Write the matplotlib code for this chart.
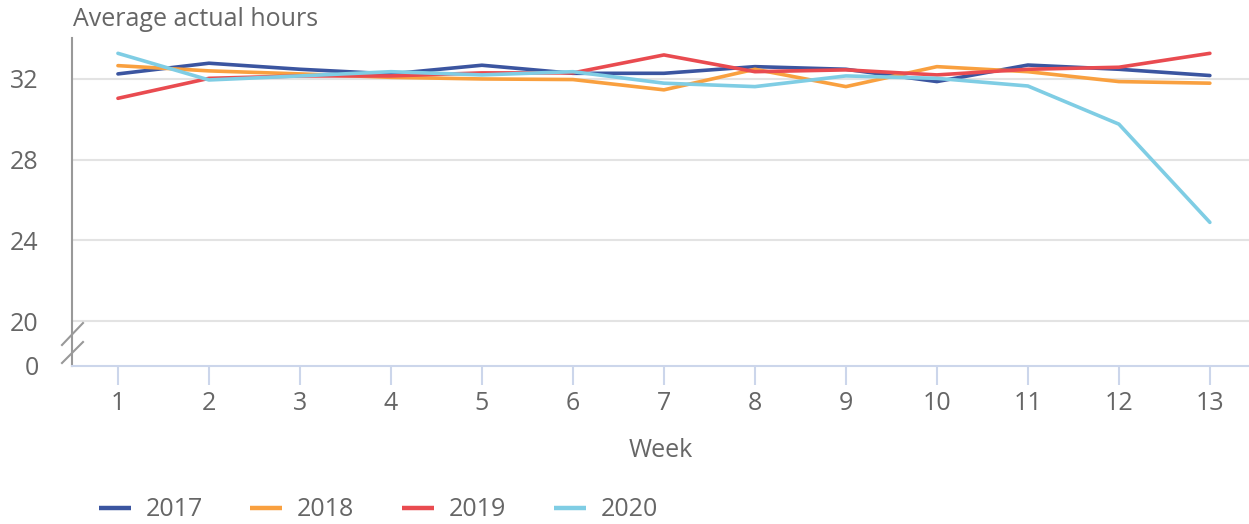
import matplotlib
matplotlib.use('Agg')
import matplotlib.pyplot as plt
from matplotlib.lines import Line2D

plt.rcParams['font.family'] = ['Open Sans', 'DejaVu Sans']

weeks = list(range(1, 14))
hours_2017 = [32.25, 32.78, 32.48, 32.25, 32.68, 32.28, 32.28, 32.61, 32.48, 31.87, 32.69, 32.48, 32.17]
hours_2018 = [32.66, 32.40, 32.25, 32.08, 32.00, 31.97, 31.46, 32.48, 31.62, 32.61, 32.36, 31.87, 31.79]
hours_2019 = [31.04, 32.03, 32.15, 32.15, 32.30, 32.30, 33.19, 32.36, 32.45, 32.20, 32.48, 32.58, 33.27]
hours_2020 = [33.27, 31.95, 32.15, 32.36, 32.20, 32.36, 31.79, 31.62, 32.15, 32.03, 31.65, 29.76, 24.89]
years = ['2017', '2018', '2019', '2020']
colors = ['#3b55a0', '#f9a03f', '#e94b50', '#7fcde4']

# broken y axis: everything below 20 squeezed into a short stub ending at 0
y_zero = 17.77
y_ticks = [20, 24, 28, 32]

W, H = 1249, 524
text_col = '#666666'
fs = 18
fig = plt.figure(figsize=(W/100, H/100), dpi=100)
ax = fig.add_axes([72/W, 1 - 366/H, 1 - 72/W, (366 - 38)/H])

for grid_y in y_ticks:
    ax.axhline(grid_y, color='#e3e3e3', lw=1.5, zorder=0)

for vals, year, col in zip([hours_2017, hours_2018, hours_2019, hours_2020], years, colors):
    ax.plot(weeks, vals, color=col, lw=2.6, label=year, solid_capstyle='round')

ax.set_xlim(0.495, 13.43)
ax.set_ylim(y_zero, 34.03)
ax.set_yticks([y_zero] + y_ticks)
ax.set_yticklabels(['0'] + [str(t) for t in y_ticks])
ax.set_xticks(weeks)

for s in ['top', 'right']:
    ax.spines[s].set_visible(False)
ax.spines['left'].set_color('#999999')
ax.spines['left'].set_linewidth(1.5)
ax.spines['bottom'].set_color('#ccd6eb')
ax.spines['bottom'].set_linewidth(1.5)

ax.tick_params(axis='y', length=0, pad=24, labelsize=fs, labelcolor=text_col)
ax.tick_params(axis='x', length=14, width=1.5, color='#ccd6eb', pad=4,
               labelsize=fs, labelcolor=text_col)

# break marks on the y axis (figure pixel coords)
for (x0, y0, x1, y1) in [(62, 345, 83, 323), (62, 363, 83, 342)]:
    fig.add_artist(Line2D([x0/W, x1/W], [1 - y0/H, 1 - y1/H], color='#999999', lw=1.5,
                          transform=fig.transFigure))

ax.set_xlabel('Week', fontsize=fs, color=text_col, labelpad=16)
fig.text(73/W, 1 - 20/H, 'Average actual hours', fontsize=fs, color=text_col,
         ha='left', va='center')

leg = fig.legend(loc='center left', bbox_to_anchor=(76/W, 1 - 510/H), ncol=4, frameon=False,
                 fontsize=fs, handlelength=1.28, handletextpad=0.6, columnspacing=1.9,
                 labelcolor=text_col)
for h in leg.legend_handles:
    h.set_linewidth(3.2)
    h.set_solid_capstyle('butt')

fig.savefig('out.png', dpi=100)
